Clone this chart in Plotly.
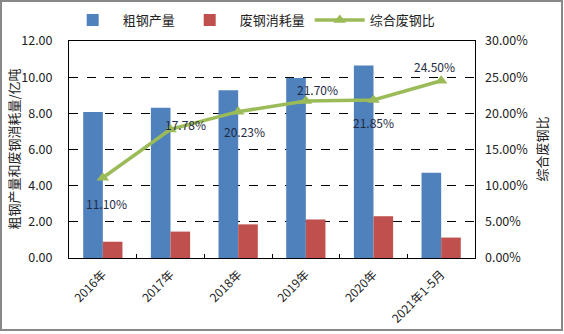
import plotly.graph_objects as go

categories = ["2016年", "2017年", "2018年", "2019年", "2020年", "2021年1-5月"]
crude_steel = [8.08, 8.31, 9.28, 9.96, 10.65, 4.72]
scrap_use = [0.90, 1.46, 1.86, 2.13, 2.31, 1.13]
scrap_ratio = [0.1110, 0.1778, 0.2023, 0.2170, 0.2185, 0.2450]
ratio_labels = ["11.10%", "17.78%", "20.23%", "21.70%", "21.85%", "24.50%"]
label_dx = [4, 15, 6, 12, 0, -7]
label_dy = [-26, 5, -20, 12, -23, 14]

W, H = 564, 334
ML, MR, MT, MB = 69, 89, 41, 76
FONT = "Noto Sans CJK SC, Liberation Sans, sans-serif"

fig = go.Figure()
fig.add_trace(go.Bar(x=categories, y=crude_steel, name="粗钢产量",
                     marker=dict(color="#4F81BD", line=dict(width=0))))
fig.add_trace(go.Bar(x=categories, y=scrap_use, name="废钢消耗量",
                     marker=dict(color="#C0504D", line=dict(width=0))))
fig.add_trace(go.Scatter(x=categories, y=scrap_ratio, name="综合废钢比", yaxis="y2",
                         mode="lines+markers",
                         line=dict(color="#9BBB59", width=3.5),
                         marker=dict(symbol="triangle-up", size=11, color="#9BBB59")))

for c, v, t, dx, dy in zip(categories, scrap_ratio, ratio_labels, label_dx, label_dy):
    fig.add_annotation(x=c, y=v, xref="x", yref="y2", text=t, showarrow=False,
                       xshift=dx, yshift=dy,
                       font=dict(size=12, color="#1F2A44", family=FONT))

pw = W - ML - MR
ph = H - MT - MB
fig.add_annotation(xref="paper", yref="paper", x=(541 - ML) / pw, y=0.5,
                   xanchor="center", yanchor="middle",
                   text="综合废钢比", textangle=-90, showarrow=False,
                   font=dict(size=13, color="#222222", family=FONT))
fig.add_annotation(xref="paper", yref="paper", x=(13 - ML) / pw, y=0.5,
                   xanchor="center", yanchor="middle",
                   text="粗钢产量和废钢消耗量/亿吨", textangle=-90, showarrow=False,
                   font=dict(size=13, color="#222222", family=FONT))
fig.add_shape(type="rect", xref="paper", yref="paper",
              x0=(1 - ML) / pw, x1=(W - 2 - ML) / pw,
              y0=-(H - 4 - MT - ph) / ph, y1=(ph + MT - 1) / ph,
              line=dict(color="#888888", width=2), layer="below")

fig.update_layout(
    width=W, height=H,
    margin=dict(l=ML, r=MR, t=MT, b=MB, autoexpand=False),
    paper_bgcolor="white", plot_bgcolor="white",
    font=dict(family=FONT, size=12, color="#222222"),
    barmode="group", bargap=0.42, bargroupgap=0,
    showlegend=True,
    legend=dict(orientation="h", x=0.45, xanchor="center", yref="container",
                y=1 - 20 / H, yanchor="middle",
                font=dict(size=13, family=FONT), itemwidth=50,
                traceorder="normal", bgcolor="rgba(0,0,0,0)"),
    xaxis=dict(type="category", tickangle=-45, showline=True, linecolor="black",
               linewidth=1, mirror=True, ticks="inside", ticklen=4, tickcolor="black",
               tickson="boundaries", showgrid=False, ticklabelstandoff=4,
               tickfont=dict(size=12, family=FONT)),
    yaxis=dict(range=[0, 12], dtick=2, tickformat=".2f", showline=True, linecolor="black",
               linewidth=1, mirror=True, showgrid=True, gridcolor="black",
               griddash="dash", gridwidth=1, zeroline=False,
               ticks="inside", ticklen=4, tickcolor="black", ticklabelstandoff=13,
               tickfont=dict(size=12.5)),
    yaxis2=dict(range=[0, 0.30], dtick=0.05, tickformat=".2%", overlaying="y",
                side="right", showgrid=False, showline=False, zeroline=False,
                ticklabelstandoff=9, tickfont=dict(size=12.5)),
)

fig.write_html("out.html")
